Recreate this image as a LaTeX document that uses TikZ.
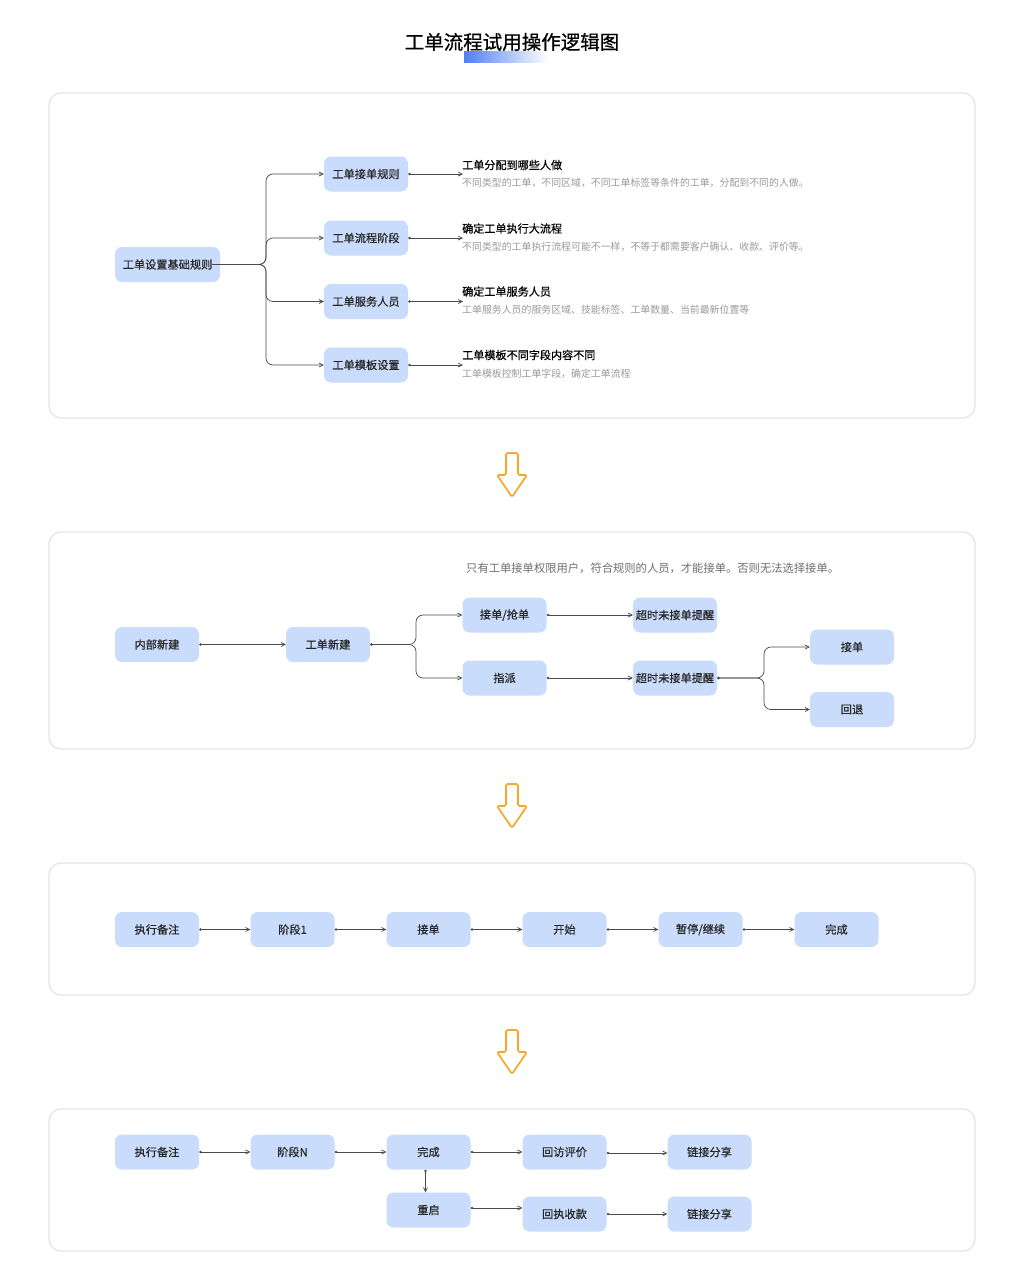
\documentclass[tikz,border=0pt]{standalone}
\usepackage{fontspec}
\setmainfont{Noto Sans CJK SC}
\newfontfamily\cjkm[FakeBold=0.6]{Noto Sans CJK SC}
\usetikzlibrary{arrows.meta,calc}
\definecolor{nodeblue}{HTML}{CADCFC}
\definecolor{framegray}{HTML}{E6E6E6}
\definecolor{linegray}{HTML}{4A4A4A}
\definecolor{descgray}{HTML}{9A9A9A}
\definecolor{notegray}{HTML}{6E6E6E}
\definecolor{arroworange}{HTML}{F7A52B}
\definecolor{titleblue}{HTML}{4F7FF5}
\begin{document}
\begin{tikzpicture}[x=1pt,y=-1pt,
  box/.style={fill=nodeblue,rounded corners=7pt,minimum width=84pt,minimum height=35pt,inner sep=0pt,font=\cjkm\fontsize{11.2}{13}\selectfont,text=black!85},
  frame/.style={draw=framegray,line width=1.4pt,rounded corners=12pt},
  conn/.style={draw=linegray,line width=0.7pt,{Circle[length=2.6pt,open]}-{Straight Barb[length=4pt,width=4pt]}},
  connb/.style={conn,rounded corners=7pt},
  bigdown/.style={draw=arroworange,line width=1.7pt,rounded corners=1.5pt,line join=round},
  ttl/.style={anchor=west,inner sep=0pt,font=\cjkm\fontsize{11.1}{13}\selectfont,text=black},
  dsc/.style={anchor=west,inner sep=0pt,font=\fontsize{9.9}{12}\selectfont,text=descgray}
]
\useasboundingbox[fill=white] (0,0) rectangle (1024,1280);

% title
\shade[left color=titleblue,right color=white] (464,51) rectangle (548,62);
\node[inner sep=0pt,font=\cjkm\fontsize{19.5}{22}\selectfont] (title) at (512,42) {工单流程试用操作逻辑图};

% ---------- section 1
\draw[frame] (49,93) rectangle (975,418);
\node[box,minimum width=105pt] (root) at (167.5,264.5) {工单设置基础规则};
\node[box] (r1) at (366,174) {工单接单规则};
\node[box] (r2) at (366,238) {工单流程阶段};
\node[box] (r3) at (366,301.5) {工单服务人员};
\node[box] (r4) at (366,365) {工单模板设置};
\foreach \n in {r1,r2,r3,r4}{
  \draw[draw=linegray,line width=0.7pt,-{Straight Barb[length=4pt,width=4pt]},rounded corners=7pt] ([xshift=-8pt]root.east) -- (266,264.5) |- (\n.west);
}
\node[ttl] (t1) at (462,165) {工单分配到哪些人做};
\node[dsc] (d1) at (462,183) {不同类型的工单，不同区域，不同工单标签等条件的工单，分配到不同的人做。};
\node[ttl] (t2) at (462,228.5) {确定工单执行大流程};
\node[dsc] (d2) at (462,247) {不同类型的工单执行流程可能不一样，不等于都需要客户确认、收款、评价等。};
\node[ttl] (t3) at (462,291.5) {确定工单服务人员};
\node[dsc] (d3) at (462,310) {工单服务人员的服务区域、技能标签、工单数量、当前最新位置等};
\node[ttl] (t4) at (462,355) {工单模板不同字段内容不同};
\node[dsc] (d4) at (462,374) {工单模板控制工单字段，确定工单流程};
\coordinate (e1) at (463,174);
\coordinate (e2) at (463,238);
\coordinate (e3) at (463,301.5);
\coordinate (e4) at (463,365);
\draw[conn] (r1.east) -- (e1);
\draw[conn] (r2.east) -- (e2);
\draw[conn] (r3.east) -- (e3);
\draw[conn] (r4.east) -- (e4);

% arrow 1
\draw[bigdown] (506,453) -- (518,453) -- (518,475) -- (527,475) -- (512,497) -- (497,475) -- (506,475) -- cycle;

% ---------- section 2
\draw[frame] (49,532) rectangle (975,749);
\node[anchor=west,inner sep=0pt,font=\fontsize{11.3}{13}\selectfont,text=notegray] (note) at (466,568) {只有工单接单权限用户，符合规则的人员，才能接单。否则无法选择接单。};
\node[box] (nb) at (157,644.5) {内部新建};
\node[box] (gd) at (328,644.5) {工单新建};
\node[box] (qd) at (504.5,615) {接单/抢单};
\node[box] (zp) at (504.5,678) {指派};
\node[box] (cs1) at (675,615) {超时未接单提醒};
\node[box] (cs2) at (675,678) {超时未接单提醒};
\node[box] (jd) at (852,647) {接单};
\node[box] (ht) at (852,709.5) {回退};
\draw[conn] (nb.east) -- (gd.west);
\draw[connb] (gd.east) -- (416,644.5) |- (qd.west);
\draw[connb] (gd.east) -- (416,644.5) |- (zp.west);
\draw[conn] (qd.east) -- (cs1.west);
\draw[conn] (zp.east) -- (cs2.west);
\draw[connb] (cs2.east) -- (764,678) |- (jd.west);
\draw[connb] (cs2.east) -- (764,678) |- (ht.west);

% arrow 2
\draw[bigdown] (506,784) -- (518,784) -- (518,806) -- (527,806) -- (512,828) -- (497,806) -- (506,806) -- cycle;

% ---------- section 3
\draw[frame] (49,863) rectangle (975,995);
\node[box] (a1) at (157,929.5) {执行备注};
\node[box] (a2) at (292.5,929.5) {阶段1};
\node[box] (a3) at (428.5,929.5) {接单};
\node[box] (a4) at (564.5,929.5) {开始};
\node[box] (a5) at (700.5,929.5) {暂停/继续};
\node[box] (a6) at (836.5,929.5) {完成};
\draw[conn] (a1.east) -- (a2.west);
\draw[conn] (a2.east) -- (a3.west);
\draw[conn] (a3.east) -- (a4.west);
\draw[conn] (a4.east) -- (a5.west);
\draw[conn] (a5.east) -- (a6.west);

% arrow 3
\draw[bigdown] (506,1030) -- (518,1030) -- (518,1052) -- (527,1052) -- (512,1074) -- (497,1052) -- (506,1052) -- cycle;

% ---------- section 4
\draw[frame] (49,1109) rectangle (975,1251);
\node[box] (b1) at (157,1152) {执行备注};
\node[box] (b2) at (292.5,1152) {阶段N};
\node[box] (b3) at (428.5,1152) {完成};
\node[box] (b4) at (564.5,1152) {回访评价};
\node[box] (b5) at (709.5,1152) {链接分享};
\node[box] (c1) at (428.5,1210) {重启};
\node[box] (c2) at (564.5,1214) {回执收款};
\node[box] (c3) at (709.5,1214) {链接分享};
\draw[conn] (b1.east) -- (b2.west);
\draw[conn] (b2.east) -- (b3.west);
\draw[conn] (b3.east) -- (b4.west);
\draw[conn] ([yshift=-1pt]b4.east) -- ([yshift=-1pt]b5.west);
\draw[conn] ([xshift=-3pt]b3.south) -- ([xshift=-3pt]c1.north);
\draw[conn] ([yshift=2pt]c1.east) -- ([yshift=2pt]c1.east -| c2.west);
\draw[conn] (c2.east) -- (c3.west);
\end{tikzpicture}
\end{document}
